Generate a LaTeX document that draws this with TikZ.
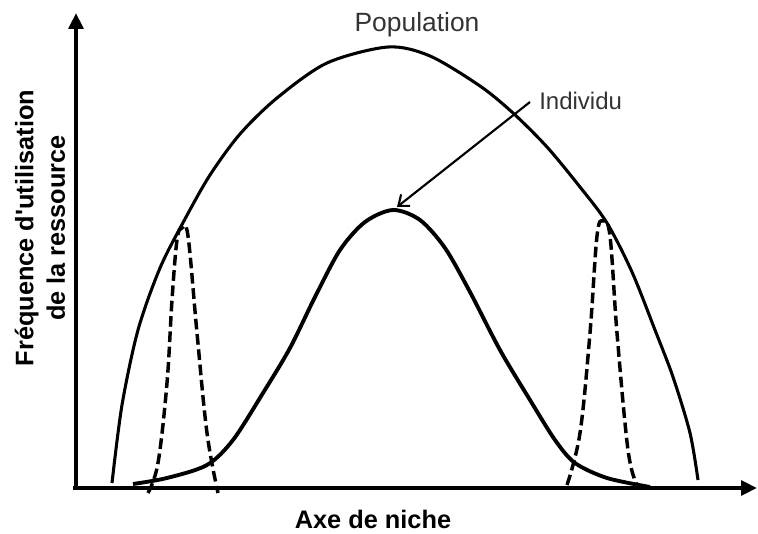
\documentclass[tikz,border=0pt]{standalone}
\usepackage{fontspec}
\setmainfont{Liberation Sans}[Ligatures=TeXOff]
\usetikzlibrary{arrows.meta}

\begin{document}
\begin{tikzpicture}[
  x=0.75pt, y=-0.75pt,
  axis/.style={line width=3.4pt, -{Triangle[length=12pt, width=11pt]}},
  popcurve/.style={line width=2.3pt},
  indcurve/.style={line width=2.9pt},
  dashcurve/.style={line width=2.6pt, dash pattern=on 8pt off 3.5pt},
  pointer/.style={line width=1.6pt, -{Straight Barb[length=7pt, width=11pt]}},
  lbl/.style={text=black!80, inner sep=0pt},
  axlbl/.style={font=\fontsize{19}{23.5}\selectfont\bfseries, inner sep=0pt}
]
  \useasboundingbox (0,0) rectangle (758,534);

  % axes
  \coordinate (origin) at (76,490);
  \coordinate (ytip)   at (76,13);
  \coordinate (xstart) at (73,488);
  \coordinate (xtip)   at (757,488);
  \draw[axis] (origin) -- (ytip);
  \draw[axis] (xstart) -- (xtip);

  % population
  \draw[popcurve] plot[smooth] coordinates {
    (112,483) (122,405) (138,330) (160,268) (185,219) (210,175) (240,134)
    (277,98) (327,63) (388,47) (430,56) (480,86) (513,113) (547,147)
    (580,187) (607,223) (632,272) (655,330) (673,377) (690,433) (698,480)};

  % individu
  \draw[indcurve] plot[smooth] coordinates {
    (133,484) (167,478) (207,465) (233,440) (263,393) (290,348) (315,297)
    (340,250) (365,222) (393,210) (420,220) (445,248) (470,292) (500,350)
    (530,400) (555,440) (575,463) (607,478) (650,487)};

  % niches etroites
  \draw[dashcurve] plot[smooth, tension=0.6] coordinates {
    (148,493) (158,463) (167,383) (172,300) (177,240) (182,228)
    (188,236) (197,333) (207,433) (218,493)};
  \draw[dashcurve] plot[smooth, tension=0.6] coordinates {
    (567,485) (580,433) (590,333) (597,236) (603,221)
    (610,236) (617,333) (628,450) (637,485)};

  % labels
  \node[lbl, font=\fontsize{19.8}{24}\selectfont, anchor=base] (poplbl) at (417,32) {Population};
  \node[lbl, font=\fontsize{18}{22}\selectfont, anchor=base west] (indlbl) at (539,110) {Individu};
  \coordinate (indstart) at (530,102);
  \coordinate (indpeak)  at (397,207);
  \draw[pointer] (indstart) -- (indpeak);

  \node[axlbl, anchor=base] (xlbl) at (373,529) {Axe de niche};
  \node[axlbl, rotate=90, align=center] (ylbl) at (40,228)
    {Fréquence d'utilisation\\de la ressource};
\end{tikzpicture}
\end{document}
